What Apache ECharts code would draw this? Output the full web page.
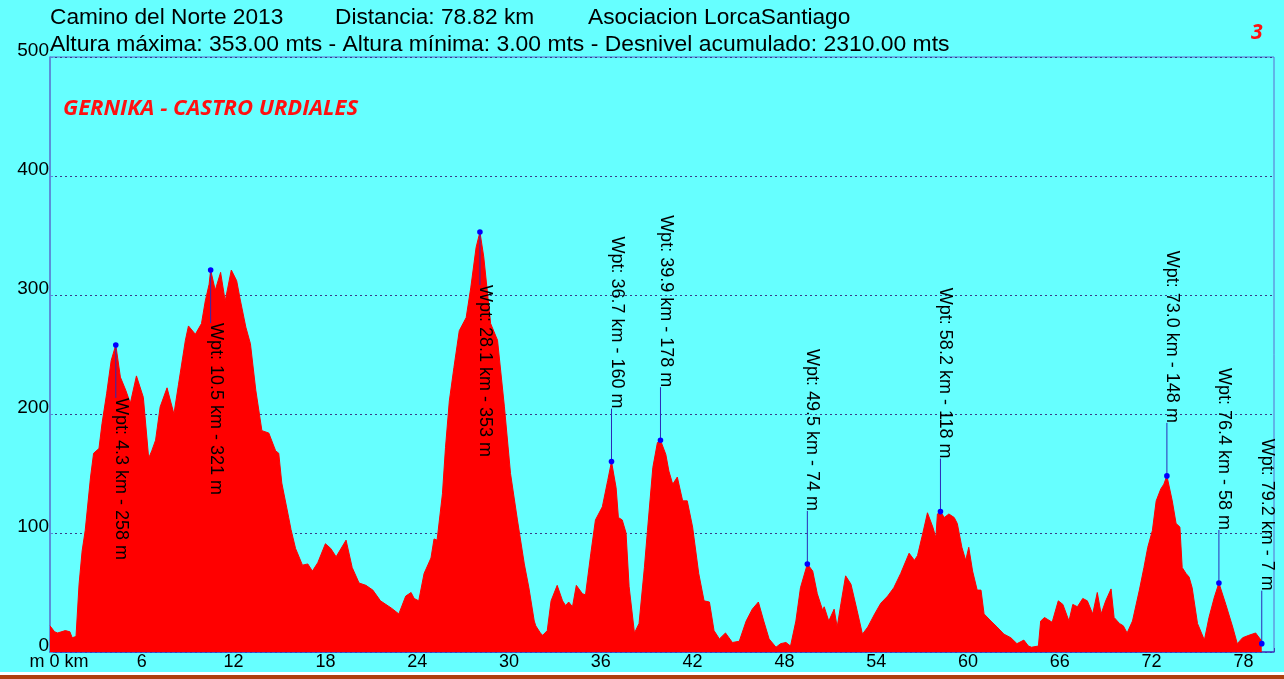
<!DOCTYPE html>
<html><head><meta charset="utf-8">
<script src="https://cdn.jsdelivr.net/npm/echarts@6/dist/echarts.min.js"></script>
<style>html,body{margin:0;padding:0;background:#66ffff}#c{width:1284px;height:679px}</style>
</head><body><div id="c"></div>
<script>
// Elevation profile (km, m)
const distKm = [0,0.3,0.5,1.0,1.3,1.45,1.7,1.9,2.1,2.3,2.65,2.85,3.2,3.4,3.7,4.0,4.3,4.6,4.95,5.25,5.65,6.1,6.45,6.65,6.9,7.2,7.65,8.1,8.4,8.85,9.05,9.5,9.9,10.15,10.4,10.5,10.8,11.15,11.45,11.85,12.2,12.45,12.8,13.1,13.45,13.85,14.3,14.75,14.95,15.15,15.6,15.75,16.05,16.5,16.85,17.15,17.5,18.0,18.35,18.7,19.35,19.75,20.2,20.65,21.1,21.6,22.3,22.8,23.25,23.6,23.8,24.1,24.45,24.9,25.1,25.3,25.65,25.85,26.1,26.4,26.75,27.2,27.5,27.85,28.1,28.35,28.8,29.25,29.7,30.1,30.55,31.0,31.3,31.65,31.75,32.05,32.2,32.5,32.75,33.15,33.5,33.7,33.9,34.15,34.4,34.8,35.0,35.35,35.65,36.1,36.45,36.7,37.0,37.15,37.4,37.65,37.85,38.2,38.5,38.85,39.05,39.4,39.7,39.9,40.25,40.45,40.7,41.0,41.35,41.65,42.0,42.4,42.75,43.1,43.4,43.75,44.15,44.6,45.05,45.5,45.9,46.3,46.65,47.0,47.45,47.75,48.1,48.4,48.75,49.05,49.5,49.85,50.15,50.5,50.6,50.9,51.25,51.45,51.7,52.0,52.35,52.75,53.1,53.45,53.9,54.3,54.75,55.15,55.6,56.15,56.5,56.7,57.05,57.35,57.7,57.9,58.0,58.2,58.45,58.75,59.1,59.3,59.6,59.85,60.05,60.3,60.6,60.85,61.05,61.5,61.9,62.35,62.8,63.2,63.65,63.95,64.15,64.6,64.75,65.0,65.5,65.9,66.2,66.6,66.85,67.15,67.5,67.8,68.15,68.45,68.7,69.0,69.35,69.55,69.9,70.15,70.4,70.75,71.2,71.5,71.75,72.05,72.3,72.6,72.8,73.0,73.35,73.6,73.85,74.0,74.25,74.45,74.65,75.0,75.45,75.75,76.1,76.4,76.85,77.3,77.6,77.95,78.35,78.8,79.15,79.2];
const elevM = [22,17,16,18,17,12,13,57,85,102,147,167,171,192,217,245,258,231,220,209,232,214,163,169,178,206,222,200,225,262,274,267,276,295,309,321,304,319,295,321,312,295,273,259,220,186,184,169,167,142,113,103,87,73,74,68,75,91,87,80,94,71,58,56,52,43,37,32,47,50,45,43,66,79,95,94,133,172,211,239,270,281,306,340,353,332,276,262,206,150,111,74,54,26,22,16,14,18,43,56,43,39,42,38,56,49,48,83,111,122,144,160,138,113,111,100,55,16,24,71,102,155,176,178,166,152,141,147,127,127,105,66,43,42,18,11,16,8,9,26,36,42,26,11,4,7,8,5,26,54,74,68,49,35,38,26,36,21,41,64,57,35,15,21,32,41,47,54,66,83,77,81,100,117,105,96,116,118,113,116,113,108,88,77,88,68,52,52,32,26,21,15,12,7,10,5,4,5,26,29,25,43,40,26,40,38,45,43,32,50,32,43,53,29,24,22,16,26,52,71,88,102,127,137,141,148,127,108,105,71,66,63,54,24,10,29,46,58,40,21,7,12,14,16,10,7];
// Waypoints
const wptKm = [4.3,10.5,28.1,36.7,39.9,49.5,58.2,73.0,76.4,79.2];
const wptM = [258,321,353,160,178,74,118,148,58,7];
const wptSide = [1,1,1,-1,-1,-1,-1,-1,-1,-1]; // 1: label below point, -1: label above
// Texts
const titleLine1a = 'Camino del Norte 2013';
const titleLine1b = 'Distancia: 78.82 km';
const titleLine1c = 'Asociacion LorcaSantiago';
const titleLine2 = 'Altura máxima: 353.00 mts - Altura mínima: 3.00 mts - Desnivel acumulado: 2310.00 mts';
const stageName = 'GERNIKA - CASTRO URDIALES';
const stageNum = '3';

const FONT = '"Liberation Sans", Arial, sans-serif';
const profile = distKm.map((k, i) => [k, elevM[i]]);
const wpts = wptKm.map((k, i) => [k, wptM[i], wptSide[i]]);

const chart = echarts.init(document.getElementById('c'), null, {renderer: 'canvas'});
const tStyle = {fontFamily: FONT, fontSize: 22.7, fontWeight: 'normal', color: '#000'};
chart.setOption({
  backgroundColor: '#66ffff',
  animation: false,
  title: [
    {text: titleLine1a, left: 50, top: 6, padding: 0, textStyle: tStyle},
    {text: titleLine1b, left: 335, top: 6, padding: 0, textStyle: tStyle},
    {text: titleLine1c, left: 588, top: 6, padding: 0, textStyle: tStyle},
    {text: titleLine2, left: 50, top: 33, padding: 0, textStyle: Object.assign({}, tStyle, {fontSize: 22.9})},
    {text: stageName, left: 63, top: 98, padding: 0, textStyle: {fontFamily: '"Open Sans", sans-serif', fontSize: 22, fontWeight: 'bold', fontStyle: 'italic', color: '#ff1010'}},
    {text: stageNum, left: 1251, top: 23, padding: 0, textStyle: {fontFamily: '"Open Sans", sans-serif', fontSize: 21, fontWeight: 'bold', fontStyle: 'italic', color: '#ff1010'}}
  ],
  grid: {left: 50, right: 10, top: 57, bottom: 27, show: true, borderColor: '#5a6ad0', borderWidth: 1, backgroundColor: 'transparent'},
  xAxis: {
    type: 'value', min: 0, max: 80, interval: 6,
    axisLine: {show: true, lineStyle: {color: '#3c3cc0', width: 1.5}},
    axisTick: {show: true, inside: true, length: 4, lineStyle: {color: '#4040b0'}},
    minorTick: {show: true, splitNumber: 6, length: 4, lineStyle: {color: '#4040b0'}},
    splitLine: {show: false},
    axisLabel: {
      margin: 1, showMaxLabel: false, color: '#000', fontFamily: FONT, fontSize: 18,
      formatter: v => v === 0 ? '{a|m 0 km}' : (v >= 80 ? '' : String(v)),
      rich: {a: {fontFamily: FONT, fontSize: 18, color: '#000', padding: [0, 0, 0, 18]}}
    }
  },
  yAxis: {
    type: 'value', min: 0, max: 500, interval: 100,
    axisLine: {show: true, lineStyle: {color: '#5a85d5', width: 1.5}},
    axisTick: {show: true, inside: true, length: 3, lineStyle: {color: '#5a85d5'}},
    splitLine: {show: true, lineStyle: {color: '#3a3a88', type: [2, 3], width: 1}},
    axisLabel: {
      margin: 1, color: '#000', fontFamily: FONT, fontSize: 19,
      formatter: v => '{v|' + v + '}',
      rich: {v: {fontFamily: FONT, fontSize: 19, color: '#000', padding: [0, 0, 12, 0]}}
    }
  },
  series: [
    {
      type: 'line', data: profile, showSymbol: false, symbol: 'none',
      lineStyle: {color: '#ff0000', width: 1},
      areaStyle: {color: '#ff0000', opacity: 1},
      z: 2
    },
    {
      type: 'custom', data: wpts, clip: false, z: 5,
      encode: {x: 0, y: 1},
      renderItem: function (params, api) {
        const k = api.value(0), m = api.value(1), side = api.value(2);
        const p = api.coord([k, m]);
        const ey = p[1] + side * 53;
        const txt = 'Wpt: ' + k.toFixed(1) + ' km - ' + m + ' m';
        return {
          type: 'group',
          children: [
            {type: 'line', shape: {x1: p[0], y1: p[1], x2: p[0], y2: ey}, style: {stroke: '#2a2ab8', lineWidth: 1}},
            {type: 'circle', shape: {cx: p[0], cy: p[1], r: 2.8}, style: {fill: '#0000ff'}},
            {type: 'text', x: p[0] - 4, y: ey, rotation: -Math.PI / 2,
             style: {text: txt, x: 0, y: 0, align: side > 0 ? 'left' : 'right', verticalAlign: 'bottom', fill: '#000', fontSize: 18, fontFamily: FONT}}
          ]
        };
      }
    }
  ],
  graphic: [
    {type: 'rect', left: 0, bottom: 4, shape: {width: 1284, height: 3}, style: {fill: '#ffffff'}},
    {type: 'rect', left: 0, bottom: 0, shape: {width: 1284, height: 4}, style: {fill: '#b0400e'}}
  ]
});
</script></body></html>
